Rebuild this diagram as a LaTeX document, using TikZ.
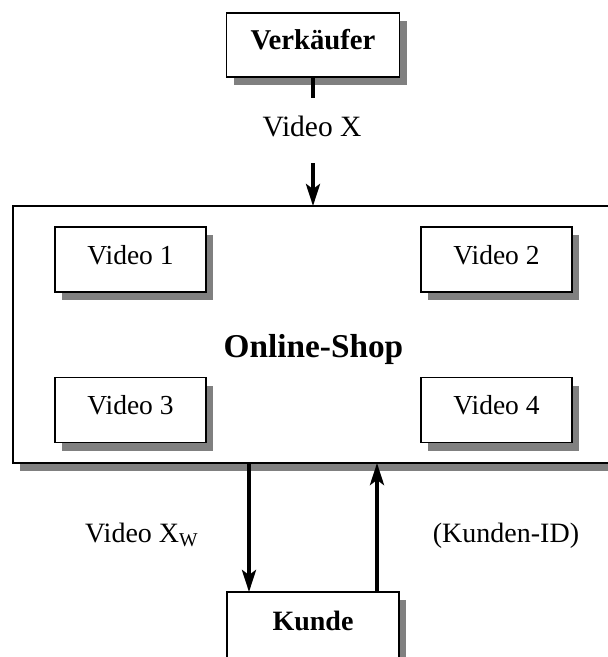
\documentclass[tikz,border=0pt]{standalone}
\usepackage{fontspec}
\setmainfont{Liberation Serif}
\usetikzlibrary{arrows.meta,shadows,calc}
\begin{document}
\begin{tikzpicture}[x=1pt,y=-1pt,
  box/.style={rectangle, draw=black, line width=1.6pt, fill=white,
    inner sep=0pt, outer sep=0pt,
    drop shadow={shadow xshift=7pt, shadow yshift=-8pt, fill=black!50, opacity=1}},
  videobox/.style={box, minimum width=151pt, minimum height=65pt,
    font=\fontsize{27.5}{32}\selectfont, text height=19pt, text depth=10pt},
  plain/.style={inner sep=0pt, font=\fontsize{28}{32}\selectfont},
  shaft/.style={line width=3.8pt},
  arr/.style={line width=3.8pt, -{Stealth[length=22pt, width=14pt, inset=5pt]}}
]
\clip (0,0) rectangle (608,657);

% seller at the top
\node[box, minimum width=173pt, minimum height=64pt,
      font=\bfseries\fontsize{28.7}{32}\selectfont, text height=19pt, text depth=11pt]
      (verk) at (313,45) {Verkäufer};

% the shop with its four videos
\node[box, minimum width=627pt, minimum height=257pt] (online) at (326.35,334.5) {};
\node[videobox] (v1) at (130.5,259.5) {Video 1};
\node[videobox] (v2) at (496.5,259.5) {Video 2};
\node[videobox] (v3) at (130.5,410) {Video 3};
\node[videobox] (v4) at (496.5,410) {Video 4};
\node[inner sep=0pt, anchor=base, font=\bfseries\fontsize{33.3}{36}\selectfont]
      (shoplabel) at (313.5,357) {Online-Shop};

% customer at the bottom
\node[box, minimum width=172pt, minimum height=68pt,
      font=\bfseries\fontsize{28}{32}\selectfont, text height=19pt, text depth=11pt]
      (kunde) at (313,626) {Kunde};

% upload of the video
\node[plain, anchor=base, font=\fontsize{29.5}{32}\selectfont,
      text height=38pt, text depth=27pt] (vx) at (312,136) {Video X};
\draw[shaft] (verk.south) -- (verk.south |- vx.north);
\draw[arr] (vx.south -| verk.south) -- (online.north -| verk.south);

% delivery and customer id
\coordinate (kin) at ($(kunde.north west)+(22,0)$);
\coordinate (kout) at ($(kunde.north east)+(-22,0)$);
\draw[arr] (online.south -| kin) -- (kin);
\draw[arr] (kout) -- (online.south -| kout);
\node[plain, anchor=base west] (vxw) at (85,542) {Video X\textsubscript{W}};
\node[plain, anchor=base] (kid) at (506,542) {(Kunden-ID)};
\end{tikzpicture}
\end{document}
